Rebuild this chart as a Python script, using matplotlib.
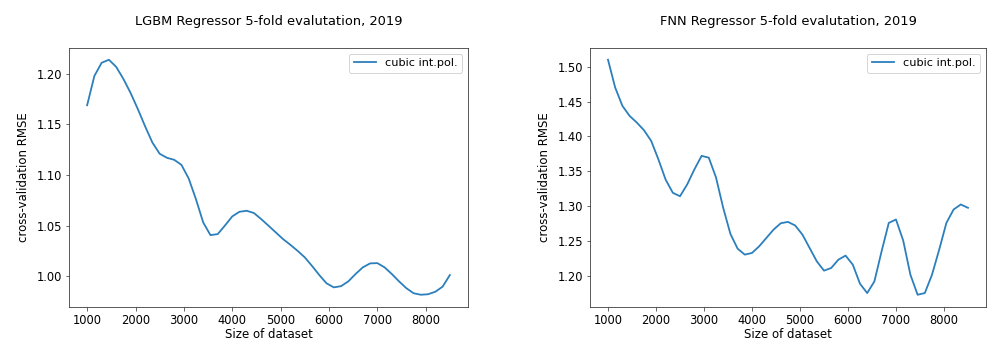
import numpy as np
import matplotlib
matplotlib.use("Agg")
import matplotlib.pyplot as plt

# dataset sizes used for the cubic interpolation curve
sizes = np.arange(1000, 8501, 150)

lgbm_rmse = [
    1.169, 1.198, 1.211, 1.214, 1.207, 1.195, 1.181, 1.165, 1.148, 1.132,
    1.121, 1.117, 1.115, 1.110, 1.0965, 1.076, 1.053, 1.0405, 1.0415, 1.050,
    1.059, 1.0636, 1.0646, 1.0623, 1.0563, 1.0498, 1.0432, 1.0366, 1.031, 1.025,
    1.0185, 1.010, 1.001, 0.9928, 0.9888, 0.990, 0.9947, 1.002, 1.0086, 1.0125,
    1.0128, 1.0086, 1.002, 0.9947, 0.988, 0.983, 0.9815, 0.982, 0.9845, 0.9895,
    1.001,
]

fnn_rmse = [
    1.510, 1.470, 1.4438, 1.4294, 1.4198, 1.4088, 1.3934, 1.367, 1.338, 1.319,
    1.314, 1.331, 1.3526, 1.372, 1.3694, 1.341, 1.2974, 1.260, 1.2388, 1.2302,
    1.2326, 1.2422, 1.2542, 1.2662, 1.2753, 1.2772, 1.272, 1.259, 1.2398, 1.2206,
    1.2072, 1.211, 1.223, 1.2288, 1.2158, 1.1884, 1.175, 1.1918, 1.235, 1.2758,
    1.2806, 1.2504, 1.2014, 1.1726, 1.175, 1.2014, 1.2374, 1.2758, 1.295, 1.3022,
    1.2974,
]

titles = [
    "LGBM Regressor 5-fold evalutation, 2019",
    "FNN Regressor 5-fold evalutation, 2019",
]


def plot_panel(ax, values, title):
    ax.plot(sizes, values, color="#2b7fbc", linewidth=1.8, label="cubic int.pol.")
    ax.set_title(title, fontsize=13, pad=23)
    ax.set_xlabel("Size of dataset", fontsize=11.7, labelpad=1)
    ax.set_ylabel("cross-validation RMSE", fontsize=11.7, labelpad=6)
    ax.set_xticks(range(1000, 8001, 1000))
    ax.tick_params(labelsize=11.5, color="#444444")
    for spine in ax.spines.values():
        spine.set_color("#333333")
    ax.legend(loc="upper right", fontsize=11.3)


def main():
    fig = plt.figure(figsize=(987 / 72, 343 / 72), dpi=72)
    ax1 = fig.add_axes([69 / 987, 1 - 306.5 / 343, 399 / 987, 258.5 / 343])
    ax2 = fig.add_axes([590 / 987, 1 - 306.5 / 343, 396 / 987, 258.5 / 343])

    plot_panel(ax1, lgbm_rmse, titles[0])
    plot_panel(ax2, fnn_rmse, titles[1])
    ax1.set_yticks([1.00, 1.05, 1.10, 1.15, 1.20])
    ax2.set_yticks([1.20, 1.25, 1.30, 1.35, 1.40, 1.45, 1.50])

    fig.savefig("out.png", dpi=72)


if __name__ == "__main__":
    main()
